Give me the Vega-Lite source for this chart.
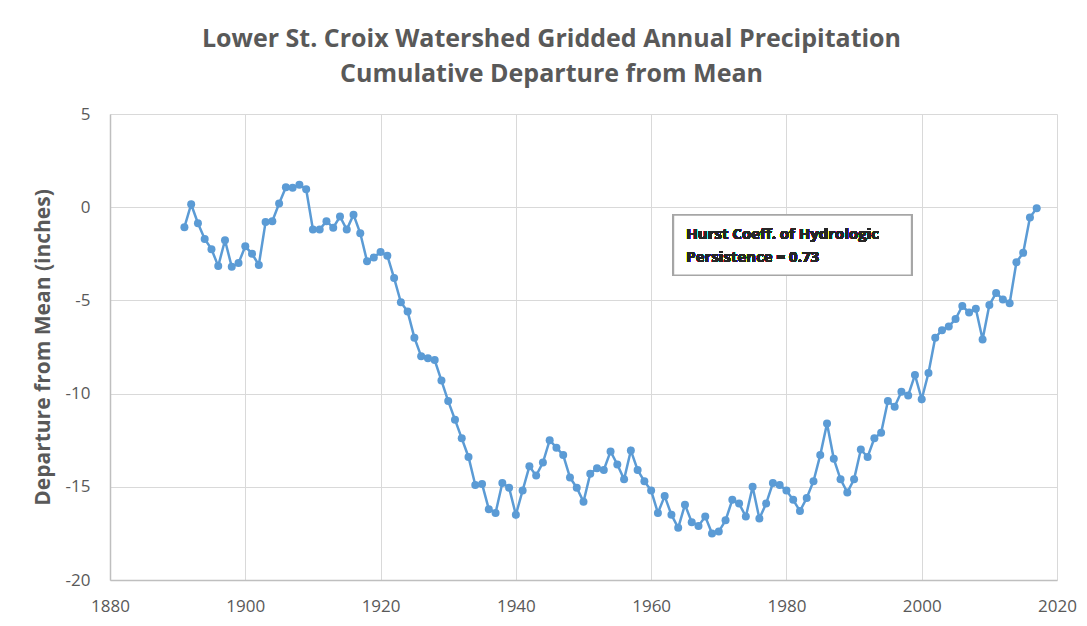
{
  "$schema": "https://vega.github.io/schema/vega-lite/v6.json",
  "width": 947,
  "height": 466,
  "autosize": {"type": "none"},
  "padding": {"left": 110, "top": 114, "right": 30, "bottom": 46},
  "background": "white",
  "title": {
    "text": ["Lower St. Croix Watershed Gridded Annual Precipitation", "Cumulative Departure from Mean"],
    "font": "Open Sans",
    "fontSize": 25,
    "fontWeight": "bold",
    "color": "#595959",
    "lineHeight": 35,
    "anchor": "middle",
    "frame": "group",
    "dx": -32,
    "offset": 18
  },
  "config": {
    "view": {"stroke": null},
    "axis": {
      "labelFont": "Open Sans",
      "labelColor": "#595959",
      "labelFontSize": 17,
      "titleFont": "Open Sans",
      "titleColor": "#595959",
      "gridColor": "#D9D9D9",
      "gridWidth": 1,
      "domainColor": "#BFBFBF",
      "domainWidth": 1.5,
      "ticks": false
    }
  },
  "data": {
    "values": [
      {"year": 1891, "dep": -1.07},
      {"year": 1892, "dep": 0.16},
      {"year": 1893, "dep": -0.86},
      {"year": 1894, "dep": -1.7},
      {"year": 1895, "dep": -2.25},
      {"year": 1896, "dep": -3.16},
      {"year": 1897, "dep": -1.77},
      {"year": 1898, "dep": -3.2},
      {"year": 1899, "dep": -3.0},
      {"year": 1900, "dep": -2.1},
      {"year": 1901, "dep": -2.5},
      {"year": 1902, "dep": -3.1},
      {"year": 1903, "dep": -0.8},
      {"year": 1904, "dep": -0.75},
      {"year": 1905, "dep": 0.2},
      {"year": 1906, "dep": 1.07},
      {"year": 1907, "dep": 1.05},
      {"year": 1908, "dep": 1.2},
      {"year": 1909, "dep": 0.96},
      {"year": 1910, "dep": -1.2},
      {"year": 1911, "dep": -1.2},
      {"year": 1912, "dep": -0.75},
      {"year": 1913, "dep": -1.1},
      {"year": 1914, "dep": -0.5},
      {"year": 1915, "dep": -1.2},
      {"year": 1916, "dep": -0.4},
      {"year": 1917, "dep": -1.4},
      {"year": 1918, "dep": -2.9},
      {"year": 1919, "dep": -2.7},
      {"year": 1920, "dep": -2.4},
      {"year": 1921, "dep": -2.6},
      {"year": 1922, "dep": -3.8},
      {"year": 1923, "dep": -5.1},
      {"year": 1924, "dep": -5.6},
      {"year": 1925, "dep": -7.0},
      {"year": 1926, "dep": -8.0},
      {"year": 1927, "dep": -8.1},
      {"year": 1928, "dep": -8.2},
      {"year": 1929, "dep": -9.3},
      {"year": 1930, "dep": -10.4},
      {"year": 1931, "dep": -11.4},
      {"year": 1932, "dep": -12.4},
      {"year": 1933, "dep": -13.4},
      {"year": 1934, "dep": -14.9},
      {"year": 1935, "dep": -14.85},
      {"year": 1936, "dep": -16.2},
      {"year": 1937, "dep": -16.4},
      {"year": 1938, "dep": -14.8},
      {"year": 1939, "dep": -15.05},
      {"year": 1940, "dep": -16.5},
      {"year": 1941, "dep": -15.2},
      {"year": 1942, "dep": -13.9},
      {"year": 1943, "dep": -14.4},
      {"year": 1944, "dep": -13.7},
      {"year": 1945, "dep": -12.5},
      {"year": 1946, "dep": -12.9},
      {"year": 1947, "dep": -13.3},
      {"year": 1948, "dep": -14.5},
      {"year": 1949, "dep": -15.05},
      {"year": 1950, "dep": -15.8},
      {"year": 1951, "dep": -14.3},
      {"year": 1952, "dep": -14.0},
      {"year": 1953, "dep": -14.1},
      {"year": 1954, "dep": -13.1},
      {"year": 1955, "dep": -13.8},
      {"year": 1956, "dep": -14.6},
      {"year": 1957, "dep": -13.05},
      {"year": 1958, "dep": -14.1},
      {"year": 1959, "dep": -14.7},
      {"year": 1960, "dep": -15.2},
      {"year": 1961, "dep": -16.4},
      {"year": 1962, "dep": -15.5},
      {"year": 1963, "dep": -16.5},
      {"year": 1964, "dep": -17.2},
      {"year": 1965, "dep": -15.96},
      {"year": 1966, "dep": -16.9},
      {"year": 1967, "dep": -17.1},
      {"year": 1968, "dep": -16.6},
      {"year": 1969, "dep": -17.5},
      {"year": 1970, "dep": -17.4},
      {"year": 1971, "dep": -16.8},
      {"year": 1972, "dep": -15.7},
      {"year": 1973, "dep": -15.9},
      {"year": 1974, "dep": -16.6},
      {"year": 1975, "dep": -15.0},
      {"year": 1976, "dep": -16.7},
      {"year": 1977, "dep": -15.9},
      {"year": 1978, "dep": -14.8},
      {"year": 1979, "dep": -14.9},
      {"year": 1980, "dep": -15.2},
      {"year": 1981, "dep": -15.7},
      {"year": 1982, "dep": -16.3},
      {"year": 1983, "dep": -15.6},
      {"year": 1984, "dep": -14.7},
      {"year": 1985, "dep": -13.3},
      {"year": 1986, "dep": -11.6},
      {"year": 1987, "dep": -13.5},
      {"year": 1988, "dep": -14.6},
      {"year": 1989, "dep": -15.3},
      {"year": 1990, "dep": -14.6},
      {"year": 1991, "dep": -13.0},
      {"year": 1992, "dep": -13.4},
      {"year": 1993, "dep": -12.4},
      {"year": 1994, "dep": -12.1},
      {"year": 1995, "dep": -10.4},
      {"year": 1996, "dep": -10.7},
      {"year": 1997, "dep": -9.9},
      {"year": 1998, "dep": -10.1},
      {"year": 1999, "dep": -9.0},
      {"year": 2000, "dep": -10.3},
      {"year": 2001, "dep": -8.9},
      {"year": 2002, "dep": -7.0},
      {"year": 2003, "dep": -6.6},
      {"year": 2004, "dep": -6.4},
      {"year": 2005, "dep": -6.0},
      {"year": 2006, "dep": -5.3},
      {"year": 2007, "dep": -5.65},
      {"year": 2008, "dep": -5.45},
      {"year": 2009, "dep": -7.1},
      {"year": 2010, "dep": -5.25},
      {"year": 2011, "dep": -4.6},
      {"year": 2012, "dep": -4.95},
      {"year": 2013, "dep": -5.15},
      {"year": 2014, "dep": -2.95},
      {"year": 2015, "dep": -2.45},
      {"year": 2016, "dep": -0.55},
      {"year": 2017, "dep": -0.05}
    ]
  },
  "layer": [
    {
      "mark": {"type": "line", "color": "#5B9BD5", "strokeWidth": 2.5, "point": {"filled": true, "size": 64, "color": "#5B9BD5", "opacity": 1}},
      "encoding": {
        "x": {
          "field": "year", "type": "quantitative",
          "scale": {"domain": [1880, 2020], "nice": false, "zero": false},
          "axis": {"values": [1880, 1900, 1920, 1940, 1960, 1980, 2000, 2020], "format": "d", "title": null, "grid": true, "labelPadding": 18, "labelFlush": false}
        },
        "y": {
          "field": "dep", "type": "quantitative",
          "scale": {"domain": [-20, 5], "nice": false, "zero": false},
          "axis": {"values": [-20, -15, -10, -5, 0, 5], "labelExpr": "toString(datum.value)", "title": "Departure from Mean (inches)", "titleFontSize": 21, "titleFontWeight": "bold", "titlePadding": 12, "labelPadding": 20, "grid": true}
        }
      }
    },
    {
      "mark": {"type": "rect", "fill": "white", "stroke": "#A6A6A6", "strokeWidth": 1.5},
      "encoding": {
        "x": {"datum": 1963.3, "type": "quantitative"},
        "x2": {"datum": 1998.5},
        "y": {"datum": -0.42, "type": "quantitative"},
        "y2": {"datum": -3.65}
      }
    },
    {
      "mark": {"type": "text", "align": "left", "baseline": "middle", "font": "Open Sans", "fontSize": 15, "fontWeight": "bold", "fill": "#262626", "opacity": 0.99, "lineHeight": 23},
      "encoding": {
        "x": {"datum": 1965.2, "type": "quantitative"},
        "y": {"datum": -1.45, "type": "quantitative"},
        "text": {"value": ["Hurst Coeff. of Hydrologic", "Persistence  = 0.73"]}
      }
    }
  ]
}
